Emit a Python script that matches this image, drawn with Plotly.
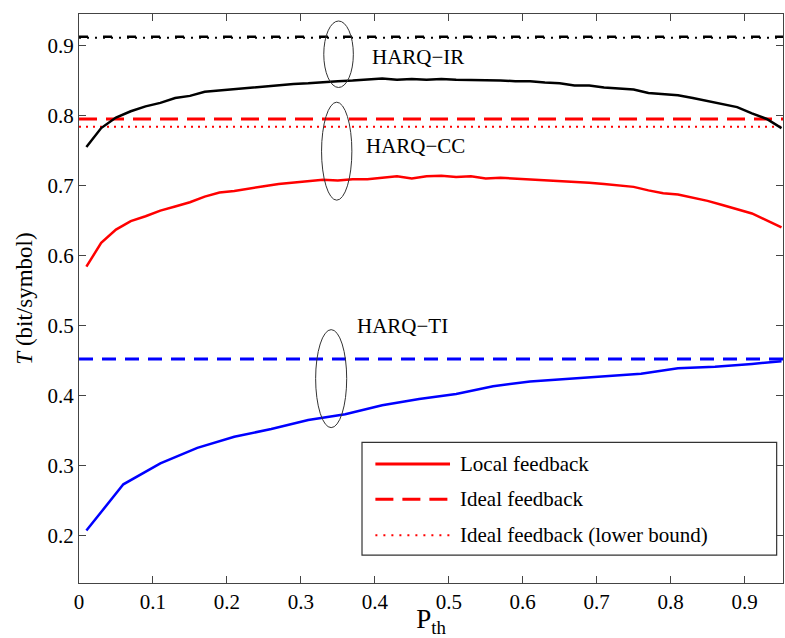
import plotly.graph_objects as go

# ---------------- data ----------------
p_dense = [0.01, 0.03, 0.05, 0.07, 0.09, 0.11, 0.13, 0.15, 0.17, 0.19,
           0.21, 0.23, 0.25, 0.27, 0.29, 0.31, 0.33, 0.35, 0.37, 0.39,
           0.41, 0.43, 0.45, 0.47, 0.49, 0.51, 0.53, 0.55, 0.57, 0.59,
           0.61, 0.63, 0.65, 0.67, 0.69, 0.71, 0.73, 0.75, 0.77, 0.79,
           0.81, 0.83, 0.85, 0.87, 0.89, 0.91, 0.93, 0.95]

ir_local = [0.755, 0.782, 0.797, 0.806, 0.813, 0.818, 0.825, 0.828, 0.834, 0.836,
            0.838, 0.840, 0.841, 0.844, 0.845, 0.846, 0.848, 0.849, 0.850, 0.852,
            0.853, 0.851, 0.852, 0.851, 0.852, 0.851, 0.851, 0.850, 0.850, 0.849,
            0.849, 0.847, 0.846, 0.843, 0.843, 0.840, 0.838, 0.837, 0.832, 0.830,
            0.829, 0.825, 0.821, 0.816, 0.812, 0.803, 0.795, 0.782]

cc_local = [0.584, 0.618, 0.637, 0.649, 0.656, 0.664, 0.670, 0.676, 0.684, 0.690,
            0.692, 0.696, 0.699, 0.702, 0.704, 0.705, 0.708, 0.707, 0.709, 0.709,
            0.711, 0.713, 0.710, 0.713, 0.714, 0.712, 0.713, 0.710, 0.711, 0.710,
            0.709, 0.708, 0.707, 0.706, 0.704, 0.702, 0.700, 0.698, 0.693, 0.689,
            0.687, 0.683, 0.678, 0.672, 0.666, 0.660, 0.650, 0.640]

p_coarse = [0.01, 0.06, 0.11, 0.16, 0.21, 0.26, 0.31, 0.36, 0.41, 0.46,
            0.51, 0.56, 0.61, 0.66, 0.71, 0.76, 0.81, 0.86, 0.91, 0.95]
ti_local = [0.207, 0.273, 0.303, 0.325, 0.341, 0.352, 0.365, 0.373, 0.386, 0.395,
            0.402, 0.413, 0.420, 0.424, 0.428, 0.431, 0.439, 0.441, 0.445, 0.449]

p_flat = [0.0, 0.96]
ir_ideal = [0.9125, 0.9125]
ir_lower = [0.9112, 0.9112]
cc_ideal = [0.795, 0.795]
cc_lower = [0.784, 0.784]
ti_ideal = [0.452, 0.452]

x_ticks = [0, 0.1, 0.2, 0.3, 0.4, 0.5, 0.6, 0.7, 0.8, 0.9]
y_ticks = [0.2, 0.3, 0.4, 0.5, 0.6, 0.7, 0.8, 0.9]

legend_labels = ["Local feedback", "Ideal feedback", "Ideal feedback (lower bound)"]
scheme_labels = ["HARQ\u2212IR", "HARQ\u2212CC", "HARQ\u2212TI"]

FONT = "Liberation Serif, Times New Roman, serif"

fig = go.Figure()

# ideal lines
fig.add_trace(go.Scatter(x=p_flat, y=ir_ideal, mode="lines",
                         line=dict(color="black", width=2.5, dash="9px,15px"), showlegend=False))
fig.add_trace(go.Scatter(x=p_flat, y=ir_lower, mode="lines",
                         line=dict(color="black", width=2, dash="2px,6px"), showlegend=False))
fig.add_trace(go.Scatter(x=p_flat, y=cc_ideal, mode="lines",
                         line=dict(color="#ff0000", width=3, dash="18px,9px"), showlegend=False))
fig.add_trace(go.Scatter(x=p_flat, y=cc_lower, mode="lines",
                         line=dict(color="#ff0000", width=2, dash="2px,5px"), showlegend=False))
fig.add_trace(go.Scatter(x=p_flat, y=ti_ideal, mode="lines",
                         line=dict(color="#0000ff", width=3, dash="14px,9px"), showlegend=False))

# local feedback curves
fig.add_trace(go.Scatter(x=p_dense, y=ir_local, mode="lines",
                         line=dict(color="black", width=2.5), showlegend=False))
fig.add_trace(go.Scatter(x=p_dense, y=cc_local, mode="lines",
                         line=dict(color="#ff0000", width=2.5), showlegend=False))
fig.add_trace(go.Scatter(x=p_coarse, y=ti_local, mode="lines",
                         line=dict(color="#0000ff", width=2.5), showlegend=False))

shapes = []
# ellipses
ellipses = [(0.331, 0.371, 0.840, 0.935),
            (0.328, 0.369, 0.679, 0.819),
            (0.320, 0.362, 0.354, 0.494)]
for x0, x1, y0, y1 in ellipses:
    shapes.append(dict(type="circle", xref="x", yref="y", x0=x0, x1=x1, y0=y0, y1=y1,
                       line=dict(color="#333333", width=1)))

# manual legend
shapes.append(dict(type="rect", xref="paper", yref="paper", x0=0.402, x1=0.991, y0=0.049, y1=0.247,
                   line=dict(color="#333333", width=1.2), fillcolor="white", layer="above"))
leg_y = [0.209, 0.147, 0.084]
leg_dash = ["solid", "18px,9px", "2px,6px"]
leg_w = [3, 3, 2]
for yy, dd, ww in zip(leg_y, leg_dash, leg_w):
    shapes.append(dict(type="line", xref="paper", yref="paper", x0=0.421, x1=0.527, y0=yy, y1=yy,
                       line=dict(color="#ff0000", width=ww, dash=dd), layer="above"))

annotations = []
for yy, txt in zip(leg_y, legend_labels):
    annotations.append(dict(xref="paper", yref="paper", x=0.538, y=yy, text=txt, showarrow=False,
                            xanchor="left", yanchor="middle", font=dict(family=FONT, size=21, color="black")))

label_pos = [(0.394, 0.884), (0.386, 0.756), (0.373, 0.499)]
for (lx, ly), txt in zip(label_pos, scheme_labels):
    annotations.append(dict(xref="x", yref="y", x=lx, y=ly, text=txt, showarrow=False,
                            xanchor="left", yanchor="middle", font=dict(family=FONT, size=21, color="black")))

fig.update_layout(
    width=785, height=638,
    margin=dict(l=79, r=1, t=14, b=53),
    paper_bgcolor="white", plot_bgcolor="white",
    font=dict(family=FONT, size=21, color="black"),
    shapes=shapes, annotations=annotations,
    showlegend=False,
)
fig.update_xaxes(range=[0, 0.952], tickvals=x_ticks, ticktext=[f"{v:g}" for v in x_ticks],
                 ticks="inside", ticklen=7, tickcolor="#444444", showline=True, linecolor="#444444",
                 linewidth=1, mirror="ticks", showgrid=False, zeroline=False,
                 tickfont=dict(family=FONT, size=21, color="black"),
                 title=dict(text="P<sub>th</sub>", font=dict(family=FONT, size=27, color="black"), standoff=4))
fig.update_yaxes(range=[0.132, 0.945], tickvals=y_ticks, ticktext=[f"{v:g}" for v in y_ticks],
                 ticks="inside", ticklen=7, tickcolor="#444444", showline=True, linecolor="#444444",
                 linewidth=1, mirror="ticks", showgrid=False, zeroline=False,
                 tickfont=dict(family=FONT, size=21, color="black"),
                 title=dict(text="<i>T</i> (bit/symbol)", font=dict(family=FONT, size=23, color="black"), standoff=8))

fig.write_html("out.html")
